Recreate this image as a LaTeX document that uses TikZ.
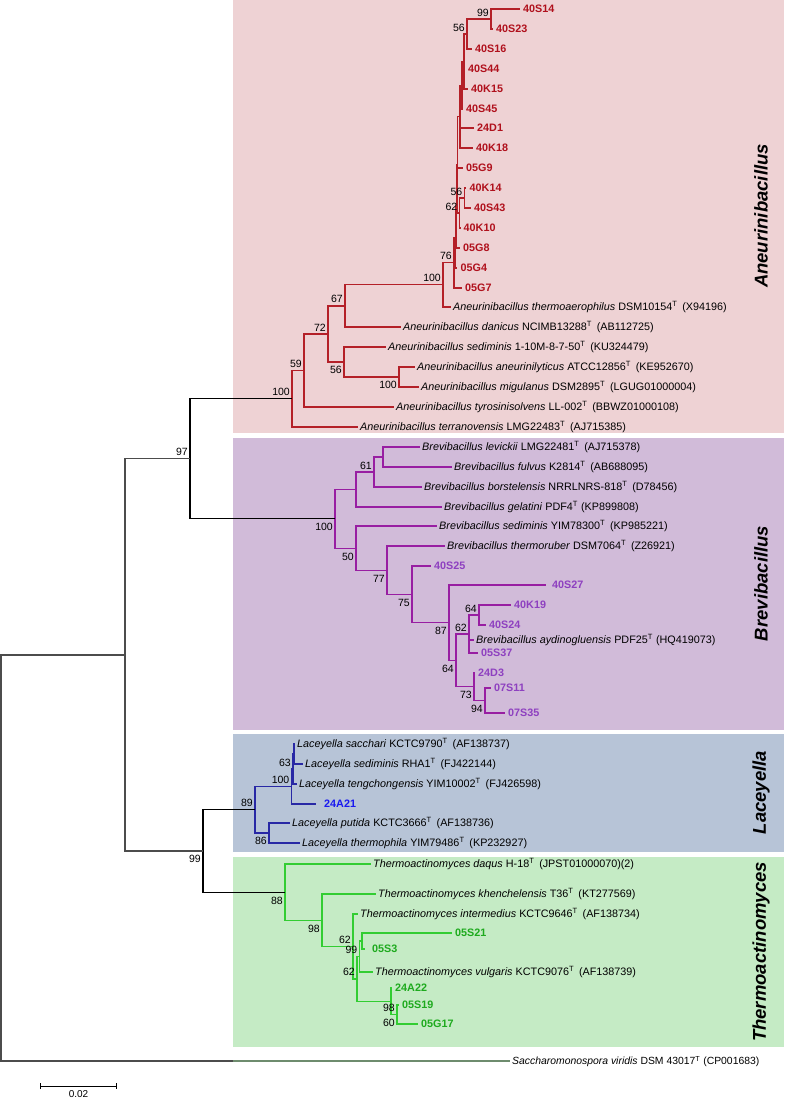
\documentclass[tikz,border=0pt]{standalone}
\usepackage{fontspec}
\setmainfont{Liberation Sans}
\usepackage{xcolor}
\usepackage{tikz}
\usetikzlibrary{arrows.meta}
\definecolor{aneubg}{RGB}{238,210,212}
\definecolor{brevbg}{RGB}{209,187,217}
\definecolor{lacebg}{RGB}{183,196,215}
\definecolor{thermbg}{RGB}{197,235,197}
\definecolor{aneuline}{RGB}{180,32,40}
\definecolor{aneutext}{RGB}{176,16,28}
\definecolor{brevline}{RGB}{152,30,162}
\definecolor{brevtext}{RGB}{142,64,192}
\definecolor{laceline}{RGB}{40,40,165}
\definecolor{lacetext}{RGB}{25,25,240}
\definecolor{thermline}{RGB}{50,205,50}
\definecolor{thermtext}{RGB}{30,170,30}
\definecolor{ogline}{RGB}{110,140,110}

\begin{document}
\begin{tikzpicture}[x=1pt,y=-1pt,
    tax/.style={anchor=west,inner sep=2.5pt,text height=7.7pt,text depth=0pt,font=\fontsize{10.8}{12}\selectfont},
    iso/.style={tax,inner sep=3.5pt,font=\fontsize{10.8}{12}\selectfont\bfseries},
    aiso/.style={iso,text=aneutext},
    biso/.style={iso,text=brevtext},
    liso/.style={iso,text=lacetext},
    tiso/.style={iso,text=thermtext},
    bs/.style={inner sep=1pt,text height=7.5pt,text depth=0pt,font=\fontsize{10.5}{12}\selectfont},
    bsa/.style={bs,anchor=south east,xshift=-1pt,yshift=1.75pt},
    bsb/.style={bs,anchor=north east,xshift=-1pt,yshift=-3.25pt},
    br/.style={line width=1.2pt},
    aneu/.style={br,aneuline},
    brev/.style={br,brevline},
    lace/.style={br,laceline},
    therm/.style={br,thermline},
    genus/.style={rotate=90,font=\fontsize{18.5}{20}\selectfont\bfseries\itshape}]
\useasboundingbox (0,0) rectangle (784,1102);
\fill[aneubg] (233,0) rectangle (784,432.5);
\fill[brevbg] (233,437.5) rectangle (784,730);
\fill[lacebg] (233,733.5) rectangle (784,852);
\fill[thermbg] (233,857) rectangle (784,1047);
\node[genus] (gAneu) at (761,216) {Aneurinibacillus};
\node[genus] (gBrev) at (761,583.5) {Brevibacillus};
\node[genus] (gLace) at (761,792.5) {Laceyella};
\node[genus] (gTherm) at (761,952) {Thermoactinomyces};

\node[aiso] (t40S14) at (519.5,9) {40S14};
\node[aiso] (t40S23) at (492.5,29) {40S23};
\node[aiso] (t40S16) at (471.5,49) {40S16};
\node[aiso] (t40S44) at (464.5,69) {40S44};
\node[aiso] (t40K15) at (467.5,89) {40K15};
\node[aiso] (t40S45) at (462.5,109) {40S45};
\node[aiso] (t24D1) at (473.5,128) {24D1};
\node[aiso] (t40K18) at (472.5,148) {40K18};
\node[aiso] (t05G9) at (462.5,168) {05G9};
\node[aiso] (t40K14) at (466,188) {40K14};
\node[aiso] (t40S43) at (470.5,208) {40S43};
\node[aiso] (t40K10) at (460,228) {40K10};
\node[aiso] (t05G8) at (459.5,248) {05G8};
\node[aiso] (t05G4) at (457,268) {05G4};
\node[aiso] (t05G7) at (461.5,288) {05G7};
\node[tax] (tAthe) at (450.5,307) {\textit{Aneurinibacillus thermoaerophilus} DSM10154\textsuperscript{T}\hspace{0.45em}(X94196)};
\node[tax] (tAdan) at (400.5,327) {\textit{Aneurinibacillus danicus} NCIMB13288\textsuperscript{T}\hspace{0.45em}(AB112725)};
\node[tax] (tAsed) at (385.5,347) {\textit{Aneurinibacillus sediminis} 1-10M-8-7-50\textsuperscript{T}\hspace{0.45em}(KU324479)};
\node[tax] (tAane) at (414.5,367) {\textit{Aneurinibacillus aneurinilyticus} ATCC12856\textsuperscript{T}\hspace{0.45em}(KE952670)};
\node[tax] (tAmig) at (418.5,387) {\textit{Aneurinibacillus migulanus} DSM2895\textsuperscript{T}\hspace{0.45em}(LGUG01000004)};
\node[tax] (tAtyr) at (393.5,407) {\textit{Aneurinibacillus tyrosinisolvens} LL-002\textsuperscript{T}\hspace{0.45em}(BBWZ01000108)};
\node[tax] (tAter) at (357.5,427) {\textit{Aneurinibacillus terranovensis} LMG22483\textsuperscript{T}\hspace{0.45em}(AJ715385)};

\draw (491,19) coordinate (c1);
\draw (467,34) coordinate (c2);
\draw (464,61.5) coordinate (c3);
\draw (462,85.25) coordinate (c4);
\draw (460,116.6) coordinate (c5);
\draw (464.5,198) coordinate (c56);
\draw (459.5,213) coordinate (c62);
\draw (457.5,164.8) coordinate (c6);
\draw (456.5,206.4) coordinate (c7);
\draw (455.5,237.2) coordinate (c8);
\draw (454,262.6) coordinate (c76);
\draw (443,284.8) coordinate (nA100b);
\draw (345,305.9) coordinate (nA67);
\draw (399,377) coordinate (nA100c);
\draw (344,362) coordinate (nA56);
\draw (328,334) coordinate (nA72);
\draw (304,370.5) coordinate (nA59);
\draw (292,398.7) coordinate (nA100);
\draw[aneu] (c1)|-(t40S14.west) (c1)|-(t40S23.west);
\draw[aneu] (c2)|-(c1) (c2)|-(t40S16.west);
\draw[aneu] (c3)|-(c2) (c3)|-(t40S44.west) (c3)|-(t40K15.west);
\draw[aneu] (c4)|-(c3) (c4)|-(t40S45.west);
\draw[aneu] (c5)|-(c4) (c5)|-(t24D1.west) (c5)|-(t40K18.west);
\draw[aneu] (c56)|-(t40K14.west) (c56)|-(t40S43.west);
\draw[aneu] (c62)|-(c56) (c62)|-(t40K10.west);
\draw[aneu] (c6)|-(c5) (c6)|-(t05G9.west) (c6)|-(c62);
\draw[aneu] (c7)|-(c6) (c7)|-(t05G8.west);
\draw[aneu] (c8)|-(c7) (c8)|-(t05G4.west);
\draw[aneu] (c76)|-(c8) (c76)|-(t05G7.west);
\draw[aneu] (nA100b)|-(c76) (nA100b)|-(tAthe.west);
\draw[aneu] (nA67)|-(nA100b) (nA67)|-(tAdan.west);
\draw[aneu] (nA100c)|-(tAane.west) (nA100c)|-(tAmig.west);
\draw[aneu] (nA56)|-(tAsed.west) (nA56)|-(nA100c);
\draw[aneu] (nA72)|-(nA67) (nA72)|-(nA56);
\draw[aneu] (nA59)|-(nA72) (nA59)|-(tAtyr.west);
\draw[aneu] (nA100)|-(nA59) (nA100)|-(tAter.west);
\node[bsa] (b1) at (c1) {99};
\node[bsa] (b2) at (c2) {56};
\node[bsa] (b3) at (c56) {56};
\node[bsa] (b4) at (c62) {62};
\node[bsa] (b5) at (c76) {76};
\node[bsa] (b6) at (nA100b) {100};
\node[bsa] (b7) at (nA67) {67};
\node[bsa] (b8) at (nA72) {72};
\node[bsb] (b9) at (nA56) {56};
\node[bsb] (b10) at (nA100c) {100};
\node[bsa] (b11) at (nA59) {59};
\node[bsa] (b12) at (nA100) {100};

\node[tax] (tBlev) at (419.5,447) {\textit{Brevibacillus levickii} LMG22481\textsuperscript{T}\hspace{0.45em}(AJ715378)};
\node[tax] (tBful) at (451.5,467) {\textit{Brevibacillus fulvus} K2814\textsuperscript{T}\hspace{0.45em}(AB688095)};
\node[tax] (tBbor) at (421.5,487) {\textit{Brevibacillus borstelensis} NRRLNRS-818\textsuperscript{T}\hspace{0.45em}(D78456)};
\node[tax] (tBgel) at (441.5,507) {\textit{Brevibacillus gelatini} PDF4\textsuperscript{T} (KP899808)};
\node[tax] (tBsed) at (436.5,526) {\textit{Brevibacillus sediminis} YIM78300\textsuperscript{T}\hspace{0.45em}(KP985221)};
\node[tax] (tBthe) at (444.5,546) {\textit{Brevibacillus thermoruber} DSM7064\textsuperscript{T}\hspace{0.45em}(Z26921)};
\node[biso] (t40S25) at (430.5,566) {40S25};
\node[biso,inner xsep=6pt] (t40S27) at (546,585) {40S27};
\node[biso] (t40K19) at (510.5,605) {40K19};
\node[biso] (t40S24) at (485.5,625) {40S24};
\node[tax] (tBayd) at (473.5,640) {\textit{Brevibacillus aydinogluensis} PDF25\textsuperscript{T} (HQ419073)};
\node[biso] (t05S37) at (477.5,653) {05S37};
\node[biso] (t24D3) at (474.5,673) {24D3};
\node[biso] (t07S11) at (490.5,688) {07S11};
\node[biso] (t07S35) at (504.5,713) {07S35};

\draw (383,457) coordinate (nBa);
\draw (374,472) coordinate (nB61);
\draw (356,489.5) coordinate (nBb);
\draw (479,615) coordinate (nB64);
\draw (469,634) coordinate (nB62);
\draw (485,700.5) coordinate (nB94);
\draw (474,686.75) coordinate (nB73);
\draw (456,660.4) coordinate (nB64b);
\draw (449,622.7) coordinate (nB87);
\draw (412,594.4) coordinate (nB75);
\draw (387,570.2) coordinate (nB77);
\draw (356,548.1) coordinate (nB50);
\draw (335,518.8) coordinate (nB100);
\draw[brev] (nBa)|-(tBlev.west) (nBa)|-(tBful.west);
\draw[brev] (nB61)|-(nBa) (nB61)|-(tBbor.west);
\draw[brev] (nBb)|-(nB61) (nBb)|-(tBgel.west);
\draw[brev] (nB100)|-(nBb) (nB100)|-(nB50);
\draw[brev] (nB50)|-(tBsed.west) (nB50)|-(nB77);
\draw[brev] (nB77)|-(tBthe.west) (nB77)|-(nB75);
\draw[brev] (nB75)|-(t40S25.west) (nB75)|-(nB87);
\draw[brev] (nB87)|-(t40S27.west) (nB87)|-(nB64b);
\draw[brev] (nB64b)|-(nB62) (nB64b)|-(nB73);
\draw[brev] (nB62)|-(nB64) (nB62)|-(tBayd.west) (nB62)|-(t05S37.west);
\draw[brev] (nB64)|-(t40K19.west) (nB64)|-(t40S24.west);
\draw[brev] (nB73)|-(t24D3.west) (nB73)|-(nB94);
\draw[brev] (nB94)|-(t07S11.west) (nB94)|-(t07S35.west);
\node[bsa] (b13) at (nB61) {61};
\node[bsb] (b14) at (nB100) {100};
\node[bsb] (b15) at (nB50) {50};
\node[bsb] (b16) at (nB77) {77};
\node[bsb] (b17) at (nB75) {75};
\node[bsb] (b18) at (nB87) {87};
\node[bsa] (b19) at (nB62) {62};
\node[bsa] (b20) at (nB64) {64};
\node[bsb] (b21) at (nB64b) {64};
\node[bsb] (b22) at (nB73) {73};
\node[bsb] (b23) at (nB94) {94};

\node[tax] (tLsac) at (294.5,744) {\textit{Laceyella sacchari} KCTC9790\textsuperscript{T}\hspace{0.45em}(AF138737)};
\node[tax] (tLsed) at (302.5,764) {\textit{Laceyella sediminis} RHA1\textsuperscript{T}\hspace{0.45em}(FJ422144)};
\node[tax] (tLten) at (296.5,784) {\textit{Laceyella tengchongensis} YIM10002\textsuperscript{T}\hspace{0.45em}(FJ426598)};
\node[liso,inner xsep=8pt] (t24A21) at (316,804) {24A21};
\node[tax] (tLput) at (289.5,823) {\textit{Laceyella putida} KCTC3666\textsuperscript{T}\hspace{0.45em}(AF138736)};
\node[tax] (tLthe) at (299.5,843) {\textit{Laceyella thermophila} YIM79486\textsuperscript{T}\hspace{0.45em}(KP232927)};
\draw (294,754) coordinate (L1);
\draw (293,769) coordinate (L63);
\draw (291.5,786.5) coordinate (L100);
\draw (269,833) coordinate (L86);
\draw (255,809.75) coordinate (L89);
\draw[lace] (L1)|-(tLsac.west) (L1)|-(tLsed.west);
\draw[lace] (L63)|-(L1) (L63)|-(tLten.west);
\draw[lace] (L100)|-(L63) (L100)|-(t24A21.west);
\draw[lace] (L86)|-(tLput.west) (L86)|-(tLthe.west);
\draw[lace] (L89)|-(L100) (L89)|-(L86);
\node[bsa] (b24) at (L63) {63};
\node[bsa] (b25) at (L100) {100};
\node[bsa] (b26) at (L89) {89};
\node[bsb] (b27) at (L86) {86};

\node[tax] (tTdaq) at (370.5,864) {\textit{Thermoactinomyces daqus} H-18\textsuperscript{T}\hspace{0.45em}(JPST01000070)(2)};
\node[tax] (tTkhe) at (375.5,894) {\textit{Thermoactinomyces khenchelensis} T36\textsuperscript{T}\hspace{0.45em}(KT277569)};
\node[tax] (tTint) at (357.5,914) {\textit{Thermoactinomyces intermedius} KCTC9646\textsuperscript{T}\hspace{0.45em}(AF138734)};
\node[tiso] (t05S21) at (451.5,933) {05S21};
\node[tiso,inner xsep=7pt] (t05S3) at (365,949) {05S3};
\node[tax] (tTvul) at (372.5,972) {\textit{Thermoactinomyces vulgaris} KCTC9076\textsuperscript{T}\hspace{0.45em}(AF138739)};
\node[tiso] (t24A22) at (391.5,988) {24A22};
\node[tiso] (t05S19) at (398.5,1005) {05S19};
\node[tiso] (t05G17) at (417.5,1024) {05G17};
\draw (362,941) coordinate (nT05);
\draw (359.5,956.5) coordinate (T99);
\draw (397,1014.5) coordinate (T98c);
\draw (391,1001.25) coordinate (T98b);
\draw (357,978.9) coordinate (T62b);
\draw (353,946.4) coordinate (T62a);
\draw (322,920.2) coordinate (T98);
\draw (285,892.1) coordinate (T88);
\draw[therm] (nT05)|-(t05S21.west) (nT05)|-(t05S3.west);
\draw[therm] (T99)|-(nT05) (T99)|-(tTvul.west);
\draw[therm] (T98c)|-(t05S19.west) (T98c)|-(t05G17.west);
\draw[therm] (T98b)|-(t24A22.west) (T98b)|-(T98c);
\draw[therm] (T62b)|-(T99) (T62b)|-(T98b);
\draw[therm] (T62a)|-(tTint.west) (T62a)|-(T62b);
\draw[therm] (T98)|-(tTkhe.west) (T98)|-(T62a);
\draw[therm] (T88)|-(tTdaq.west) (T88)|-(T98);
\node[bsb] (b28) at (T88) {88};
\node[bsb] (b29) at (T98) {98};
\node[bsa] (b30) at (T62a) {62};
\node[bsa] (b31) at (T99) {99};
\node[bsa] (b32) at (T62b) {62};
\node[bsa] (b33) at (T98c) {98};
\node[bsb] (b34) at (T98c) {60};

\node[tax,font=\fontsize{10.4}{12}\selectfont] (tog) at (509.5,1061) {\textit{Saccharomonospora viridis} DSM 43017\textsuperscript{T} (CP001683)};
\draw (190,458.7) coordinate (n97);
\draw (203,851) coordinate (n99);
\draw (125,654.9) coordinate (n125);
\draw (1,858) coordinate (root);
\draw (233,1061) coordinate (ogmid);
\draw[br,black] (n97)|-(nA100) (n97)|-(nB100);
\draw[br,black] (n99)|-(L89) (n99)|-(T88);
\draw[br,black!70] (n125)|-(n97) (n125)|-(n99);
\draw[br,black!70] (root)|-(n125) (root)|-(ogmid);
\draw[br,ogline] (ogmid)--(tog.west);
\node[bsa] (b35) at (n97) {97};
\node[bsb] (b36) at (n99) {99};

\draw (40,1086) coordinate (sb1);
\draw (117,1086) coordinate (sb2);
\draw[line width=0.9pt,{Bar[width=6pt]}-{Bar[width=6pt]}] (sb1)--node[below=3pt,inner sep=1pt,font=\fontsize{10}{12}\selectfont] (sblab) {0.02}(sb2);
\end{tikzpicture}
\end{document}
